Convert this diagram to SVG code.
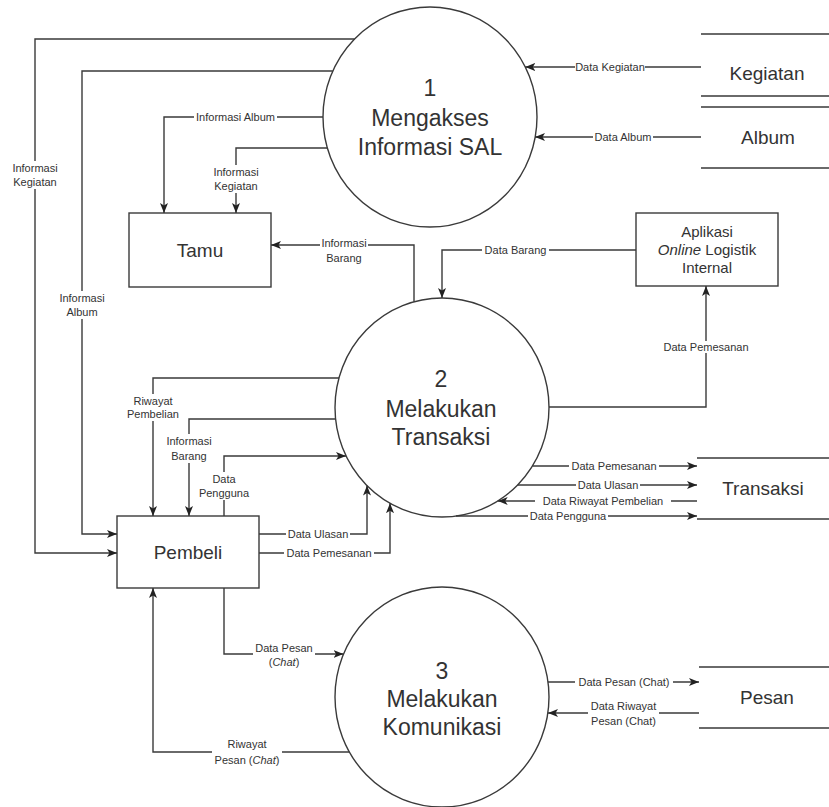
<svg xmlns="http://www.w3.org/2000/svg" width="829" height="807" viewBox="0 0 829 807">
<defs>
<style>
.ln{fill:none;stroke:#3a3a3a;stroke-width:1.4}
.ar{marker-end:url(#arr)}
.sh{fill:#fff;stroke:#3a3a3a;stroke-width:1.4}
.st{fill:none;stroke:#3a3a3a;stroke-width:1.4}
text{font-family:"Liberation Sans",Arial,sans-serif;fill:#333;text-anchor:middle}
.s{font-size:11px}
.m{font-size:15px}
.b{font-size:19px}
.p{font-size:23px}
.bg{fill:#fff}
.i{font-style:italic}
</style>
<marker id="arr" viewBox="0 0 10 8" refX="10" refY="4" markerWidth="10" markerHeight="8" orient="auto" markerUnits="userSpaceOnUse"><path d="M0,0 L10,4 L0,8 L2.5,4 Z" fill="#222"/></marker>
</defs>
<rect width="829" height="807" fill="#fff"/>

<g id="p1">
<ellipse cx="430" cy="117" rx="107" ry="110" class="sh"/>
<text class="p" x="430" y="96">1</text>
<text class="p" x="430" y="126">Mengakses</text>
<text class="p" x="430" y="155">Informasi SAL</text>
</g>
<g id="p2">
<ellipse cx="442" cy="407.5" rx="107" ry="109.5" class="sh"/>
<text class="p" x="441" y="387">2</text>
<text class="p" x="441" y="417">Melakukan</text>
<text class="p" x="441" y="445">Transaksi</text>
</g>
<g id="p3">
<ellipse cx="442" cy="697" rx="107" ry="110" class="sh"/>
<text class="p" x="442" y="679">3</text>
<text class="p" x="442" y="707">Melakukan</text>
<text class="p" x="442" y="735">Komunikasi</text>
</g>
<g id="tamu">
<rect x="129" y="213" width="142" height="74" class="sh"/>
<text class="b" x="200" y="257">Tamu</text>
</g>
<g id="pembeli">
<rect x="117" y="516" width="142" height="72" class="sh"/>
<text class="b" x="188" y="559">Pembeli</text>
</g>
<g id="aplikasi">
<rect x="636" y="213" width="142" height="73" class="sh"/>
<text class="m" x="707" y="237">Aplikasi</text>
<text class="m" x="707" y="255"><tspan class="i">Online</tspan> Logistik</text>
<text class="m" x="707" y="273">Internal</text>
</g>
<g id="ds-kegiatan">
<path d="M701,34 H829 M701,96 H829" class="st"/>
<text class="b" x="767" y="80">Kegiatan</text>
</g>
<g id="ds-album">
<path d="M701,107 H829 M701,168 H829" class="st"/>
<text class="b" x="768" y="144">Album</text>
</g>
<g id="ds-transaksi">
<path d="M697,458 H829 M697,519 H829" class="st"/>
<text class="b" x="763" y="495">Transaksi</text>
</g>
<g id="ds-pesan">
<path d="M699,667 H829 M699,728 H829" class="st"/>
<text class="b" x="767" y="704">Pesan</text>
</g>

<g id="connectors">
<g id="e1">
<path d="M354.6,39 H35 V553 H117" class="ln ar"/>
<rect x="12" y="161" width="46" height="28" class="bg"/>
<text class="s" x="35" y="172">Informasi</text>
<text class="s" x="35" y="186">Kegiatan</text>
</g>
<g id="e2">
<path d="M332.8,71 H82 V534 H117" class="ln ar"/>
<rect x="59" y="291" width="46" height="28" class="bg"/>
<text class="s" x="82" y="302">Informasi</text>
<text class="s" x="82" y="316">Album</text>
</g>
<g id="e3">
<path d="M323,117 H164 V213" class="ln ar"/>
<rect x="194" y="111" width="83" height="12" class="bg"/>
<text class="s" x="235.5" y="121">Informasi Album</text>
</g>
<g id="e4">
<path d="M327.3,148 H236 V213" class="ln ar"/>
<rect x="213" y="165" width="46" height="28" class="bg"/>
<text class="s" x="236" y="176">Informasi</text>
<text class="s" x="236" y="190">Kegiatan</text>
</g>
<g id="e5">
<path d="M701,67 H525.3" class="ln ar"/>
<rect x="575" y="61" width="70" height="12" class="bg"/>
<text class="s" x="610" y="71">Data Kegiatan</text>
</g>
<g id="e6">
<path d="M701,137 H535" class="ln ar"/>
<rect x="593" y="131" width="60" height="12" class="bg"/>
<text class="s" x="623" y="141">Data Album</text>
</g>
<g id="e7">
<path d="M414,301.8 V245 H271" class="ln ar"/>
<rect x="320" y="236" width="48" height="29" class="bg"/>
<text class="s" x="344" y="247">Informasi</text>
<text class="s" x="344" y="262">Barang</text>
</g>
<g id="e8">
<path d="M636,250 H442 V298" class="ln ar"/>
<rect x="482" y="244" width="67" height="12" class="bg"/>
<text class="s" x="515.5" y="254">Data Barang</text>
</g>
<g id="e9">
<path d="M549,407 H706 V286" class="ln ar"/>
<rect x="660" y="341" width="92" height="12" class="bg"/>
<text class="s" x="706" y="351">Data Pemesanan</text>
</g>
<g id="e10">
<path d="M339,378 H153 V516" class="ln ar"/>
<rect x="126" y="394" width="54" height="27" class="bg"/>
<text class="s" x="153" y="405">Riwayat</text>
<text class="s" x="153" y="418">Pembelian</text>
</g>
<g id="e11">
<path d="M335.6,419 H189 V516" class="ln ar"/>
<rect x="165" y="434" width="48" height="29" class="bg"/>
<text class="s" x="189" y="445">Informasi</text>
<text class="s" x="189" y="460">Barang</text>
</g>
<g id="e12">
<path d="M224,516 V456 H346" class="ln ar"/>
<rect x="198" y="472" width="52" height="28" class="bg"/>
<text class="s" x="224" y="483">Data</text>
<text class="s" x="224" y="497">Pengguna</text>
</g>
<g id="e13">
<path d="M259,534 H367 V485.6" class="ln ar"/>
<rect x="286" y="528" width="64" height="12" class="bg"/>
<text class="s" x="318" y="538">Data Ulasan</text>
</g>
<g id="e14">
<path d="M259,553 H390 V503.2" class="ln ar"/>
<rect x="284" y="547" width="90" height="12" class="bg"/>
<text class="s" x="329" y="557">Data Pemesanan</text>
</g>
<g id="e15">
<path d="M532.5,466 H697" class="ln ar"/>
<rect x="569" y="460" width="90" height="12" class="bg"/>
<text class="s" x="614" y="470">Data Pemesanan</text>
</g>
<g id="e16">
<path d="M517.6,485 H697" class="ln ar"/>
<rect x="576" y="479" width="64" height="12" class="bg"/>
<text class="s" x="608" y="489">Data Ulasan</text>
</g>
<g id="e17">
<path d="M697,501 H497.7" class="ln ar"/>
<rect x="535" y="495" width="136" height="12" class="bg"/>
<text class="s" x="603" y="505">Data Riwayat Pembelian</text>
</g>
<g id="e18">
<path d="M456,516 H697" class="ln ar"/>
<rect x="528" y="510" width="80" height="12" class="bg"/>
<text class="s" x="568" y="520">Data Pengguna</text>
</g>
<g id="e19">
<path d="M224,588 V654 H343.5" class="ln ar"/>
<rect x="253" y="641" width="62" height="28" class="bg"/>
<text class="s" x="284" y="652">Data Pesan</text>
<text class="s" x="284" y="666">(<tspan class="i">Chat</tspan>)</text>
</g>
<g id="e20">
<path d="M349.3,752 H153 V588" class="ln ar"/>
<rect x="212" y="737" width="70" height="30" class="bg"/>
<text class="s" x="247" y="748">Riwayat</text>
<text class="s" x="247" y="764">Pesan (<tspan class="i">Chat</tspan>)</text>
</g>
<g id="e21">
<path d="M548,682 H699" class="ln ar"/>
<rect x="575" y="676" width="98" height="12" class="bg"/>
<text class="s" x="624" y="686">Data Pesan (Chat)</text>
</g>
<g id="e22">
<path d="M699,713 H548" class="ln ar"/>
<rect x="588" y="699" width="71" height="29" class="bg"/>
<text class="s" x="623.5" y="710">Data Riwayat</text>
<text class="s" x="623.5" y="725">Pesan (Chat)</text>
</g>
</g>
</svg>
